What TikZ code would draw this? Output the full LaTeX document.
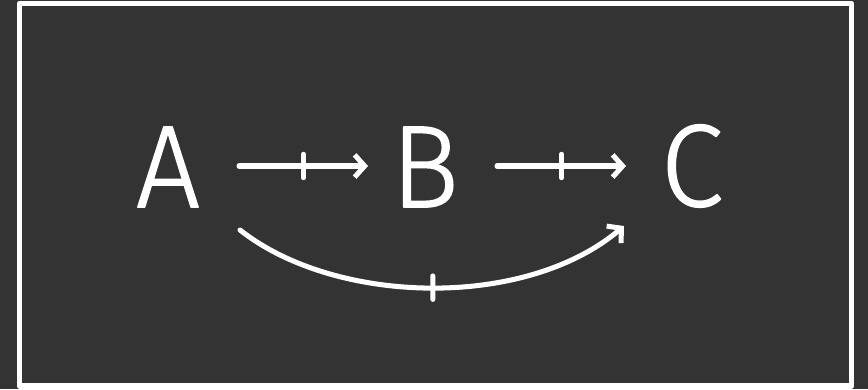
\documentclass[tikz,border=0pt]{standalone}
\usepackage{fontspec}
\setmainfont{Fira Sans Light}[FakeBold=1.2]
\usetikzlibrary{arrows.meta,decorations.markings}
\definecolor{bg}{HTML}{333333}
\begin{document}
\begin{tikzpicture}[x=0.03cm,y=-0.03cm,
  line cap=round, line join=round,
  lbl/.style={text=white, inner sep=0pt, font=\fontsize{100}{100}\selectfont},
  pro/.style={draw=white, line width=4.3pt,
    -{Straight Barb[length=8.5pt,width=19pt]},
    postaction={decorate},
    decoration={markings, mark=at position #1 with {\draw[white,line width=4.3pt,-] (0,-10pt) -- (0,10pt);}}},
  pro/.default=0.5]
\fill[bg] (0,0) rectangle (868,389);
\draw[white, line width=4.7pt] (19.5,3.5) rectangle (851.5,386);
\node[lbl] (A) at (168,167) {\scalebox{0.97}[1]{A}};
\node[lbl] (B) at (425,167) {\scalebox{0.97}[1]{B}};
\node[lbl] (C) at (692,166) {\scalebox{0.97}[1]{C}};
\coordinate (a1) at (239,166);
\coordinate (b0) at (368,166);
\coordinate (b1) at (497,166);
\coordinate (c0) at (626,166);
\coordinate (a2) at (240,230);
\coordinate (c2) at (624,226);
\draw[pro] (a1) -- (b0);
\draw[pro] (b1) -- (c0);
\draw[pro] (a2) .. controls (335,305) and (525,310) .. (c2);
\end{tikzpicture}
\end{document}
